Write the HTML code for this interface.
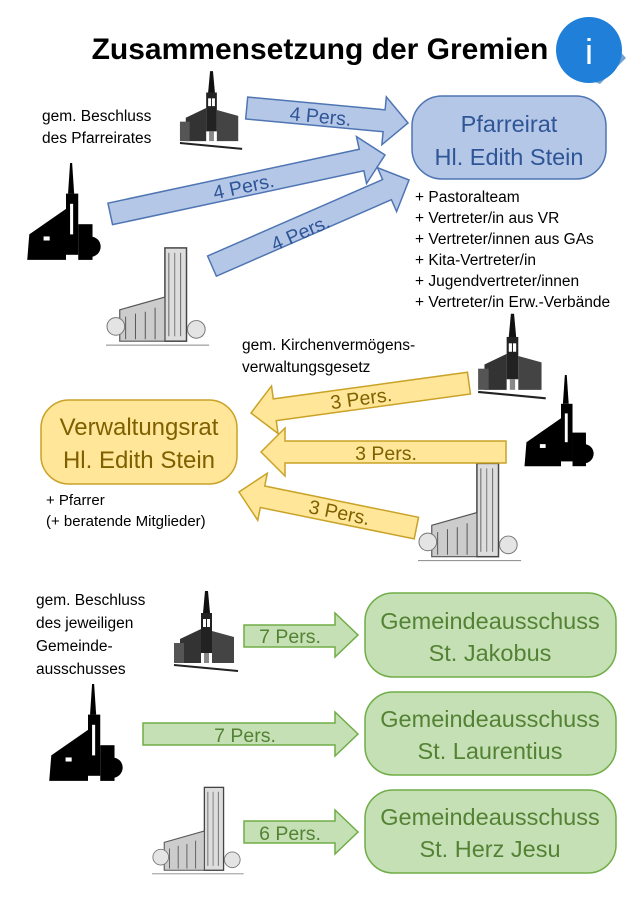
<!DOCTYPE html>
<html><head><meta charset="utf-8"><style>
html,body{margin:0;padding:0;background:#fff}
svg{display:block;font-family:"Liberation Sans","DejaVu Sans",sans-serif}
</style></head><body>
<svg width="642" height="900" viewBox="0 0 642 900" xmlns="http://www.w3.org/2000/svg">
<defs>
<symbol id="ca" viewBox="0 0 70 80">
 <polygon points="33,0 36,0 38,22 31,22" fill="#111"/>
 <rect x="29" y="22" width="11" height="40" fill="#222"/>
 <polygon points="8,48 29,38 29,72 8,72" fill="#333"/>
 <polygon points="40,40 62,46 62,72 40,72" fill="#444"/>
 <rect x="2" y="52" width="10" height="20" fill="#555"/>
 <rect x="31" y="28" width="3" height="8" fill="#fff"/><rect x="35" y="28" width="3" height="8" fill="#fff"/>
 <rect x="32" y="62" width="5" height="10" fill="#888"/>
 <line x1="2" y1="74" x2="66" y2="80" stroke="#222" stroke-width="2"/>
</symbol>
<symbol id="cb" viewBox="0 0 80 100">
 <polygon points="44,0 46,0 48,30 42,30" fill="#000"/>
 <rect x="40" y="30" width="12" height="60" fill="#000"/>
 <polygon points="4,70 40,45 40,95 2,95" fill="#000"/>
 <rect x="52" y="60" width="14" height="35" fill="#000"/>
 <circle cx="64" cy="82" r="10" fill="#000"/>
 <rect x="44" y="40" width="3" height="30" fill="#fff"/>
 <rect x="18" y="72" width="6" height="4" fill="#fff"/>
</symbol>
<symbol id="cc" viewBox="0 0 110 110">
 <rect x="60" y="5" width="22" height="95" fill="#ddd" stroke="#444" stroke-width="1.5"/>
 <line x1="64" y1="10" x2="64" y2="95" stroke="#666"/><line x1="70" y1="10" x2="70" y2="95" stroke="#777"/><line x1="76" y1="10" x2="76" y2="95" stroke="#666"/>
 <polygon points="14,68 60,55 60,100 14,100" fill="#ccc" stroke="#555" stroke-width="1.2"/>
 <line x1="20" y1="75" x2="20" y2="98" stroke="#555"/><line x1="30" y1="72" x2="30" y2="98" stroke="#555"/><line x1="40" y1="70" x2="40" y2="98" stroke="#555"/><line x1="50" y1="66" x2="50" y2="98" stroke="#555"/>
 <circle cx="10" cy="85" r="9" fill="#e4e4e4" stroke="#777"/>
 <circle cx="92" cy="88" r="9" fill="#e4e4e4" stroke="#777"/>
 <line x1="0" y1="104" x2="105" y2="104" stroke="#888"/>
</symbol>
</defs>

<text x="320" y="59" text-anchor="middle" font-size="30" font-weight="bold" fill="#000">Zusammensetzung der Gremien</text>
<polygon points="600,30 626,58 600,84 575,74" fill="#1662b0" opacity="0.6"/>
<circle cx="589" cy="50" r="33" fill="#1f7fd9"/>
<text x="589" y="64" text-anchor="middle" font-size="36" fill="#fff">i</text>

<!-- blue section -->
<text font-size="15.5" fill="#000"><tspan x="42" y="121">gem. Beschluss</tspan><tspan x="42" y="143">des Pfarreirates</tspan></text>
<use href="#ca" x="178" y="70" width="68" height="80"/>
<use href="#cb" x="25" y="163" width="82" height="102"/>
<use href="#cc" x="106" y="243" width="108" height="108"/>

<g fill="#b4c7e7" stroke="#4f75b3" stroke-width="1.5">
 <polygon transform="translate(408,123) rotate(5.3)" points="0,0 -24,-24 -24,-11 -162,-11 -162,11 -24,11 -24,24"/>
 <polygon transform="translate(385,155) rotate(-12.1)" points="0,0 -24,-24 -24,-11 -281,-11 -281,11 -24,11 -24,24"/>
 <polygon transform="translate(409,180) rotate(-23.6)" points="0,0 -24,-24 -24,-11 -215,-11 -215,11 -24,11 -24,24"/>
</g>
<g font-size="19.5" fill="#2f5597" text-anchor="middle">
 <text transform="translate(320,123) rotate(5.3)">4 Pers.</text>
 <text transform="translate(245,193) rotate(-12.1)">4 Pers.</text>
 <text transform="translate(303,239) rotate(-23.6)">4 Pers.</text>
</g>
<rect x="412" y="96" width="194" height="83" rx="30" fill="#b4c7e7" stroke="#4f75b3" stroke-width="1.5"/>
<text font-size="23.5" fill="#2f5597" text-anchor="middle"><tspan x="509" y="132">Pfarreirat</tspan><tspan x="509" y="165">Hl. Edith Stein</tspan></text>
<g font-size="15.5" fill="#000">
 <text x="415" y="202">+ Pastoralteam</text>
 <text x="415" y="223">+ Vertreter/in aus VR</text>
 <text x="415" y="244">+ Vertreter/innen aus GAs</text>
 <text x="415" y="265">+ Kita-Vertreter/in</text>
 <text x="415" y="286">+ Jugendvertreter/innen</text>
 <text x="415" y="307">+ Vertreter/in Erw.-Verbände</text>
</g>

<!-- yellow section -->
<text font-size="15.5" fill="#000"><tspan x="242" y="350">gem. Kirchenvermögens-</tspan><tspan x="242" y="372">verwaltungsgesetz</tspan></text>
<use href="#ca" x="476" y="312" width="74" height="88"/>
<use href="#cb" x="516" y="375" width="90" height="96"/>
<use href="#cc" x="418" y="455" width="108" height="115"/>
<g fill="#ffe699" stroke="#c9a227" stroke-width="1.5">
 <polygon transform="translate(251,413) rotate(172.2)" points="0,0 -24,-24 -24,-11 -220,-11 -220,11 -24,11 -24,24"/>
 <polygon transform="translate(261,452) rotate(180)" points="0,0 -24,-24 -24,-11 -245,-11 -245,11 -24,11 -24,24"/>
 <polygon transform="translate(239,492) rotate(191.5)" points="0,0 -24,-24 -24,-11 -181,-11 -181,11 -24,11 -24,24"/>
</g>
<g font-size="19.5" fill="#7f6000" text-anchor="middle">
 <text transform="translate(362,405) rotate(-7.8)">3 Pers.</text>
 <text x="386" y="460">3 Pers.</text>
 <text transform="translate(338,519) rotate(11.5)">3 Pers.</text>
</g>
<rect x="41" y="400" width="196" height="84" rx="28" fill="#ffe699" stroke="#c9a227" stroke-width="1.5"/>
<text font-size="24" fill="#7f6000" text-anchor="middle"><tspan x="139" y="435">Verwaltungsrat</tspan><tspan x="139" y="468">Hl. Edith Stein</tspan></text>
<text font-size="15" fill="#000"><tspan x="46" y="505">+ Pfarrer</tspan><tspan x="46" y="526">(+ beratende Mitglieder)</tspan></text>

<!-- green section -->
<text font-size="15.5" fill="#000"><tspan x="36" y="605">gem. Beschluss</tspan><tspan x="36" y="628">des jeweiligen</tspan><tspan x="36" y="651">Gemeinde-</tspan><tspan x="36" y="674">ausschusses</tspan></text>
<use href="#ca" x="172" y="588" width="70" height="86"/>
<use href="#cb" x="46" y="684" width="84" height="102"/>
<use href="#cc" x="152" y="776" width="96" height="110"/>
<g fill="#c5e0b4" stroke="#70ad47" stroke-width="1.5">
 <polygon points="358,635 335,613 335,625 244,625 244,647 335,647 335,657"/>
 <polygon points="358,734 335,712 335,723 143,723 143,745 335,745 335,756"/>
 <polygon points="358,832 335,810 335,821 244,821 244,843 335,843 335,854"/>
</g>
<g font-size="19.5" fill="#548235" text-anchor="middle">
 <text x="290" y="643">7 Pers.</text>
 <text x="245" y="742">7 Pers.</text>
 <text x="290" y="840">6 Pers.</text>
</g>
<g fill="#c5e0b4" stroke="#70ad47" stroke-width="1.5">
 <rect x="365" y="593" width="251" height="84" rx="28"/>
 <rect x="365" y="692" width="251" height="83" rx="28"/>
 <rect x="365" y="790" width="251" height="83" rx="28"/>
</g>
<g font-size="23.5" fill="#548235" text-anchor="middle">
 <text x="490" y="629">Gemeindeausschuss</text><text x="490" y="661">St. Jakobus</text>
 <text x="490" y="727">Gemeindeausschuss</text><text x="490" y="759">St. Laurentius</text>
 <text x="490" y="825">Gemeindeausschuss</text><text x="490" y="857">St. Herz Jesu</text>
</g>
</svg>
</body></html>
